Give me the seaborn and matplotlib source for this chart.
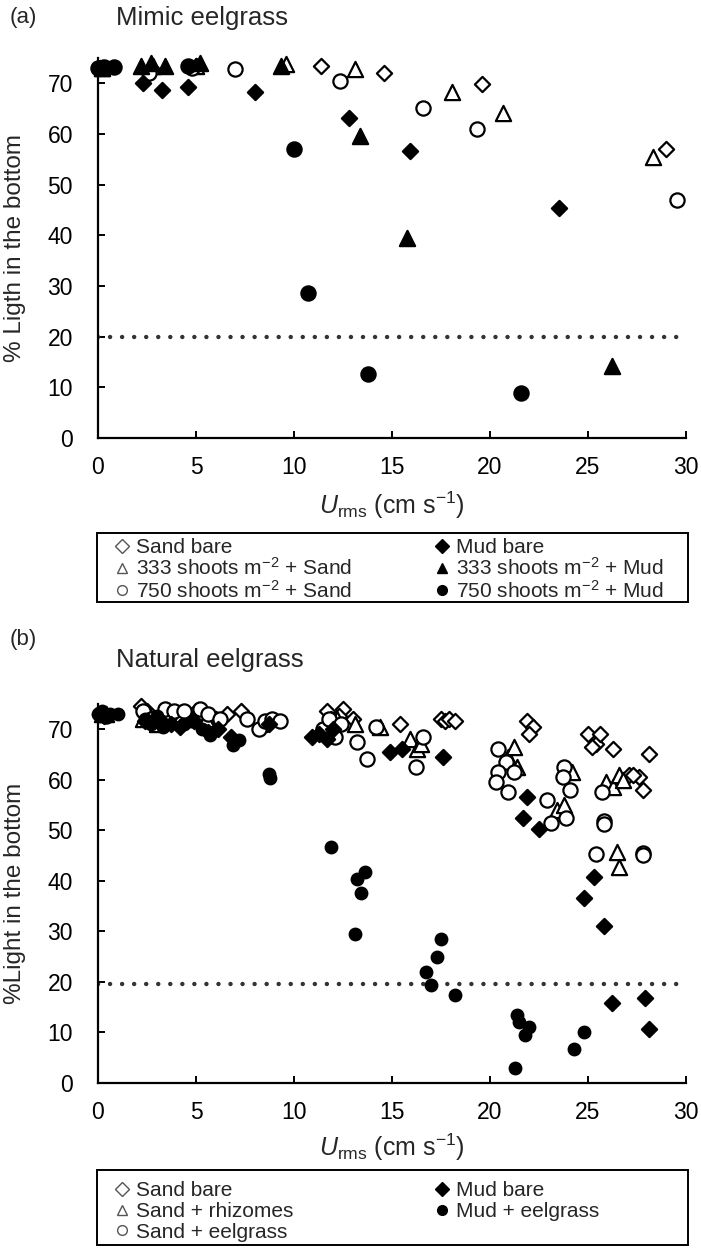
import matplotlib.pyplot as plt
import matplotlib.patches as mpatches
from matplotlib.lines import Line2D
import seaborn as sns

# (a) Mimic eelgrass
a_sand_bare_x = [0.1, 2.7, 5.0, 11.4, 14.6, 19.6, 29.0]
a_sand_bare_y = [73.0, 73.0, 73.5, 73.4, 72.1, 69.9, 57.0]
a_333_sand_x = [0.2, 2.8, 5.0, 9.6, 13.1, 18.05, 20.65, 28.3]
a_333_sand_y = [73.0, 73.5, 73.5, 73.8, 72.8, 68.2, 64.2, 55.4]
a_750_sand_x = [0.3, 2.6, 4.8, 7.0, 12.35, 16.6, 19.35, 29.55]
a_750_sand_y = [73.0, 72.1, 73.0, 72.8, 70.5, 65.1, 61.0, 47.0]
a_mud_bare_x = [0.1, 2.3, 3.25, 4.6, 8.0, 12.8, 15.9, 23.5]
a_mud_bare_y = [73.0, 70.1, 68.6, 69.2, 68.2, 63.2, 56.7, 45.4]
a_333_mud_x = [0.2, 2.2, 2.7, 3.4, 5.2, 9.35, 13.35, 15.75, 26.2]
a_333_mud_y = [73.0, 73.5, 74.0, 73.5, 74.0, 73.4, 59.6, 39.5, 14.3]
a_750_mud_x = [0.0, 0.3, 0.8, 4.6, 10.0, 10.7, 13.8, 21.6]
a_750_mud_y = [73.0, 73.2, 73.2, 73.4, 57.0, 28.7, 12.7, 8.8]

# (b) Natural eelgrass
b_sand_bare_x = [0.1, 0.3, 2.2, 2.5, 3.0, 3.5, 4.1, 4.6, 5.0, 5.3, 6.0, 6.6, 7.3,
                 8.6, 11.7, 11.9, 12.1, 12.5, 12.3, 13.0, 15.4, 17.5, 17.7, 17.9,
                 18.2, 21.9, 22.2, 22.0, 25.0, 25.4, 25.6, 25.2, 26.3, 27.1, 27.6,
                 27.3, 27.8, 28.1]
b_sand_bare_y = [73.0, 73.0, 74.5, 73.5, 72.0, 73.0, 72.5, 73.0, 73.5, 72.0, 72.0,
                 73.0, 73.5, 71.0, 73.5, 72.0, 71.0, 74.0, 72.5, 72.0, 71.0, 72.0,
                 71.5, 72.0, 71.5, 71.5, 70.5, 69.0, 69.0, 67.0, 69.0, 66.5, 66.0,
                 61.0, 60.5, 61.0, 58.0, 65.0]
b_rhizome_x = [0.2, 0.4, 2.3, 2.6, 3.0, 4.3, 4.8, 5.5, 11.9, 12.2, 13.1, 14.4,
               15.9, 16.3, 16.5, 20.9, 21.2, 21.4, 23.4, 23.8, 24.2, 25.9, 26.3,
               26.6, 26.8, 26.5, 26.6]
b_rhizome_y = [73.0, 73.0, 72.0, 73.0, 71.0, 73.0, 72.0, 72.0, 70.0, 72.0, 71.0,
               70.5, 68.0, 66.0, 67.0, 64.5, 66.5, 62.5, 54.0, 55.0, 61.5, 59.5,
               58.5, 61.0, 60.0, 45.7, 42.7]
b_sand_eel_x = [0.1, 0.4, 2.3, 2.7, 3.4, 3.9, 4.4, 5.2, 5.6, 6.2, 7.6, 8.2, 8.5,
                8.9, 9.3, 11.5, 11.8, 12.1, 12.4, 13.2, 13.7, 14.2, 16.2, 16.6,
                20.4, 20.8, 20.4, 20.3, 20.9, 21.2, 22.9, 23.1, 23.8, 23.7, 23.9,
                24.1, 25.7, 25.8, 25.8, 25.4, 27.8, 27.8]
b_sand_eel_y = [73.0, 72.5, 73.5, 72.0, 74.0, 73.5, 73.5, 74.0, 73.0, 72.0, 72.0,
                70.0, 71.5, 72.0, 71.5, 70.0, 72.0, 68.5, 71.0, 67.5, 64.0, 70.5,
                62.5, 68.5, 66.0, 63.5, 61.5, 59.5, 57.5, 61.5, 56.0, 51.5, 62.5,
                60.5, 52.5, 58.0, 57.5, 51.8, 51.2, 45.3, 45.5, 45.0]
b_mud_bare_x = [0.1, 0.3, 2.4, 3.1, 3.7, 4.2, 4.9, 5.6, 6.1, 6.8, 8.7, 10.9, 11.3,
                11.7, 12.0, 14.9, 15.5, 17.6, 21.7, 21.9, 22.5, 24.8, 25.3, 25.8,
                26.2, 27.9, 28.1]
b_mud_bare_y = [73.0, 72.5, 71.5, 72.0, 71.0, 70.5, 71.5, 69.5, 70.0, 68.5, 71.0,
                68.5, 69.0, 68.0, 70.0, 65.5, 66.0, 64.5, 52.5, 56.5, 50.2, 36.6,
                40.7, 31.1, 15.8, 16.8, 10.6]
b_mud_eel_x = [0.0, 0.2, 0.4, 0.6, 1.0, 2.4, 2.7, 3.0, 3.3, 4.4, 4.8, 5.3, 5.7,
               6.9, 7.2, 8.7, 8.8, 11.9, 13.2, 13.6, 13.4, 13.1, 16.75, 17.3, 17.5,
               17.0, 18.2, 21.4, 21.5, 22.0, 21.8, 21.3, 24.3, 24.8]
b_mud_eel_y = [73.0, 73.5, 72.5, 73.0, 73.0, 72.0, 71.0, 72.5, 70.5, 71.0, 71.5,
               70.0, 68.8, 66.8, 67.8, 61.2, 60.4, 46.7, 40.3, 41.7, 37.5, 29.5,
               22.0, 25.0, 28.5, 19.3, 17.5, 13.4, 12.0, 11.0, 9.4, 2.9, 6.7, 10.1]

a_labels = ["Sand bare", "333 shoots m$^{-2}$ + Sand", "750 shoots m$^{-2}$ + Sand",
            "Mud bare", "333 shoots m$^{-2}$ + Mud", "750 shoots m$^{-2}$ + Mud"]
b_labels = ["Sand bare", "Sand + rhizomes", "Sand + eelgrass",
            "Mud bare", "Mud + eelgrass"]

sns.set_theme(style="ticks")
plt.rcParams['font.family'] = ['Liberation Sans', 'DejaVu Sans']
plt.rcParams['mathtext.fontset'] = 'custom'
plt.rcParams['mathtext.rm'] = 'Liberation Sans'
plt.rcParams['mathtext.it'] = 'Liberation Sans:italic'
plt.rcParams['mathtext.default'] = 'regular'

# marker, filled, scatter size
a_styles = [('D', False, 60), ('^', False, 120), ('o', False, 105),
            ('D', True, 60), ('^', True, 120), ('o', True, 105)]
b_styles = [('D', False, 60), ('^', False, 120), ('o', False, 105),
            ('D', True, 60), ('o', True, 70)]

fig = plt.figure(figsize=(7.01, 12.48), dpi=100)
ax1 = fig.add_axes([0.1398, 0.649, 0.8388, 0.3045])
ax2 = fig.add_axes([0.1398, 0.1322, 0.8388, 0.3039])

a_series = [(a_sand_bare_x, a_sand_bare_y), (a_333_sand_x, a_333_sand_y),
            (a_750_sand_x, a_750_sand_y), (a_mud_bare_x, a_mud_bare_y),
            (a_333_mud_x, a_333_mud_y), (a_750_mud_x, a_750_mud_y)]
b_series = [(b_sand_bare_x, b_sand_bare_y), (b_rhizome_x, b_rhizome_y),
            (b_sand_eel_x, b_sand_eel_y), (b_mud_bare_x, b_mud_bare_y),
            (b_mud_eel_x, b_mud_eel_y)]


def draw_panel(ax, series, sty, hline):
    for (xs, ys), (m, filled, s) in zip(series, sty):
        sns.scatterplot(x=xs, y=ys, ax=ax, marker=m, s=s,
                        color='black' if filled else 'white',
                        edgecolor='black', linewidth=1.6,
                        clip_on=False, legend=False, zorder=3)
    ax.axhline(hline, color='#333333', lw=3.2, ls=(0, (0.01, 2.7)),
               dash_capstyle='round', zorder=2)
    ax.set_xlim(0, 30)
    ax.set_ylim(0, 75)
    ax.set_xticks(range(0, 31, 5))
    ax.set_yticks(range(0, 71, 10))
    ax.set_xlabel('')
    ax.set_ylabel('')
    sns.despine(ax=ax)
    for sp in ['left', 'bottom']:
        ax.spines[sp].set_linewidth(1.6)
        ax.spines[sp].set_color('black')
    ax.tick_params(axis='both', direction='in', length=5, width=1.4,
                   labelsize=16.5, colors='black')
    ax.tick_params(axis='x', pad=13)
    ax.tick_params(axis='y', pad=18)


draw_panel(ax1, a_series, a_styles, 20)
draw_panel(ax2, b_series, b_styles, 19.5)

# panel labels and titles
fig.text(0.014, 0.9856, '(a)', fontsize=16, va='center')
fig.text(0.166, 0.9856, 'Mimic eelgrass', fontsize=18.5, va='center')
fig.text(0.014, 0.4872, '(b)', fontsize=16, va='center')
fig.text(0.166, 0.4712, 'Natural eelgrass', fontsize=18.5, va='center')

fig.text(0.022, 0.801, '% Ligth in the bottom', rotation=90, fontsize=17.5,
         va='center', ha='center')
fig.text(0.022, 0.284, '%Light in the bottom', rotation=90, fontsize=17.5,
         va='center', ha='center')
xlab = r'$\mathit{U}_{\mathrm{rms}}$ (cm s$^{-1}$)'
fig.text(0.559, 0.595, xlab, fontsize=18, ha='center', va='center')
fig.text(0.559, 0.081, xlab, fontsize=18, ha='center', va='center')


def handle(m, filled):
    return Line2D([], [], marker=m, ls='none', ms=7,
                  mfc='black' if filled else 'white',
                  mec='black' if filled else '#555555', mew=1.0)


def panel_legend(handles, labels, x_cols, y_top, box, spacing):
    half = 3
    groups = [(handles[:half], labels[:half]), (handles[half:], labels[half:])]
    for (hs, ls), xc in zip(groups, x_cols):
        fig.legend(hs, ls, loc='upper left', bbox_to_anchor=(xc, y_top),
                   frameon=False, fontsize=15, handlelength=0.7,
                   handletextpad=0.35, labelspacing=spacing, borderpad=0,
                   borderaxespad=0)
    fig.patches.append(mpatches.Rectangle(box[:2], box[2], box[3],
                                          transform=fig.transFigure,
                                          fill=False, lw=1.4, ec='black'))


a_handles = [handle(m, f) for m, f, _ in a_styles]
b_handles = [handle(m, f) for m, f, _ in b_styles]
panel_legend(a_handles, a_labels, [0.163, 0.620], 0.5690,
             (0.1384, 0.5176, 0.843, 0.0553), 0.02)
panel_legend(b_handles, b_labels, [0.163, 0.620], 0.0535,
             (0.1384, 0.0024, 0.843, 0.0601), 0.08)

fig.savefig('out.png', dpi=100)
